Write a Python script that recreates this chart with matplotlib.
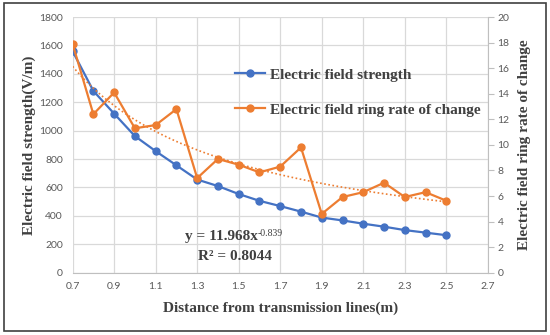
import numpy as np
import matplotlib.pyplot as plt
from matplotlib.patches import Rectangle

# data
distance = [0.7, 0.8, 0.9, 1.0, 1.1, 1.2, 1.3, 1.4, 1.5, 1.6, 1.7, 1.8, 1.9,
            2.0, 2.1, 2.2, 2.3, 2.4, 2.5]
field_strength = [1560, 1280, 1120, 962, 856, 756, 656, 610, 554, 506, 469,
                  430, 388, 368, 345, 324, 300, 282, 264]
ring_rate = [17.9, 12.4, 14.1, 11.3, 11.55, 12.8, 7.4, 8.9, 8.45, 7.85, 8.3,
             9.8, 4.6, 5.92, 6.3, 7.04, 5.92, 6.3, 5.63]

# power trendline shown on the chart
fit_a = 11.968
fit_b = -0.839
fit_r2 = 0.8044

xticks = [0.7, 0.9, 1.1, 1.3, 1.5, 1.7, 1.9, 2.1, 2.3, 2.5, 2.7]

blue = '#4472C4'
orange = '#ED7D31'
tick_col = '#595959'
label_col = '#404040'
serif = 'Liberation Serif'
sans = 'Lato'
fs = 11

fig = plt.figure(figsize=(5.5, 3.35), dpi=100)
ax = fig.add_axes([0.132, 0.186, 0.755, 0.763])
ax2 = ax.twinx()

l1, = ax.plot(distance, field_strength, color=blue, lw=1.6, marker='o',
              ms=5, label='Electric field strength', zorder=3)
l2, = ax2.plot(distance, ring_rate, color=orange, lw=1.6, marker='o',
               ms=5, label='Electric field ring rate of change', zorder=3)

xs = np.linspace(distance[0], distance[-1], 100)
ax2.plot(xs, fit_a * xs ** fit_b, color=orange, lw=1.2, ls=(0, (1, 1.5)))

ax.set_xlim(0.7, 2.7)
ax.set_ylim(0, 1800)
ax2.set_ylim(0, 20)
ax.set_xticks(xticks)
ax.set_xticklabels([str(t) for t in xticks])
ax.set_yticks(range(0, 1801, 200))
ax2.set_yticks(range(0, 21, 2))

ax.grid(True, color='#d9d9d9', lw=0.9)
ax.set_axisbelow(True)
for sp in ['top', 'left', 'right']:
    ax.spines[sp].set_visible(False)
    ax2.spines[sp].set_visible(False)
ax.spines['bottom'].set_color('#bfbfbf')
ax2.spines['bottom'].set_visible(False)
ax2.spines['right'].set_visible(True)
ax2.spines['right'].set_color('#bfbfbf')

ax.tick_params(axis='both', length=0, colors=tick_col, labelsize=7.5, pad=7)
ax2.tick_params(axis='y', length=4, color='#bfbfbf', labelcolor=tick_col,
                labelsize=7.5, pad=3)
for lab in ax.get_xticklabels() + ax.get_yticklabels() + ax2.get_yticklabels():
    lab.set_fontfamily(sans)

ax.set_xlabel('Distance from transmission lines(m)', fontsize=fs,
              fontweight='bold', family=serif, color=label_col, labelpad=7)
ax.set_ylabel('Electric field strength(V/m)', fontsize=fs,
              fontweight='bold', family=serif, color=label_col, labelpad=2)
ax2.set_ylabel('Electric field ring rate of change', fontsize=fs,
               fontweight='bold', family=serif, color=label_col, labelpad=6)

ax.legend(handles=[l1, l2], loc='upper left', bbox_to_anchor=(0.357, 0.855),
          frameon=False, labelspacing=1.4, handlelength=2.0, handletextpad=0.3,
          prop={'family': serif, 'weight': 'bold', 'size': fs},
          labelcolor=label_col)

# trendline equation
eq = ax.text(1.242, 258, 'y = %.3fx' % fit_a, fontsize=fs,
             fontweight='bold', family=serif, color=label_col,
             ha='left', va='center')
ax.annotate('%.3f' % fit_b, xy=(1.0, 1.05), xycoords=eq, ha='left', va='top',
            fontsize=7, family=serif, color=label_col)
ax.text(1.48, 117, 'R² = %.4f' % fit_r2, fontsize=fs,
        fontweight='bold', family=serif, color=label_col,
        ha='center', va='center')

fig.patches.append(Rectangle((0.008, 0.013), 0.985, 0.977, transform=fig.transFigure,
                             fill=False, edgecolor='#404040', lw=1.2))

fig.savefig('out.png', dpi=100)
